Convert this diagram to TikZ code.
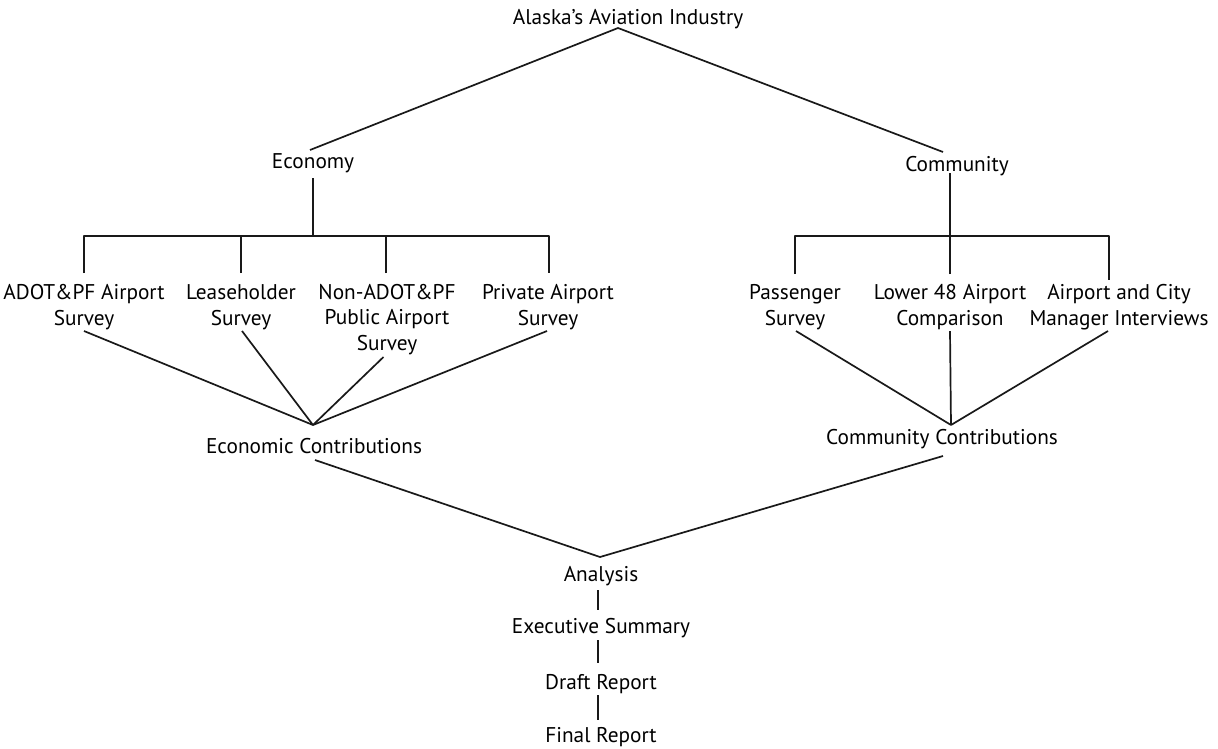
\documentclass[tikz,border=0pt]{standalone}
\usepackage{fontspec}
\setmainfont{PT Sans}
\begin{document}
\begin{tikzpicture}[x=1pt,y=-1pt,
  lbl/.style={font=\fontsize{21.3}{25.5}\selectfont, inner sep=0pt, outer sep=0pt, text height=14.9pt, text depth=0pt},
  mlbl/.style={font=\fontsize{21.3}{25.5}\selectfont, inner sep=0pt, outer sep=0pt, align=center},
  conn/.style={line width=1.7pt, line join=round, draw=black!90}]
\useasboundingbox (0,0) rectangle (1218,748);
% top
\node[lbl] (T) at (628,17) {Alaska's Aviation Industry};
\node[lbl] (E) at (313,161) {Economy};
\node[lbl] (C) at (957,164) {Community};
\coordinate (apex) at ([shift={(-10,11)}]T.center);
\draw[conn] ([shift={(-3,-11)}]E.center) -- (apex) -- ([shift={(-14,-12)}]C.center);
% left survey labels
\node[mlbl] (L1) at (84,307) {ADOT\&PF Airport\\Survey};
\node[mlbl] (L2) at (241,307) {Leaseholder\\Survey};
\node[mlbl] (L3) at (387,319.5) {Non-ADOT\&PF\\Public Airport\\Survey};
\node[mlbl] (L4) at (548,307) {Private Airport\\Survey};
% right survey labels
\node[mlbl] (R1) at (795,307) {Passenger\\Survey};
\node[mlbl] (R2) at (950,307) {Lower 48 Airport\\Comparison};
\node[mlbl] (R3) at (1119,307) {Airport and City\\Manager Interviews};
% left bracket
\draw[conn] ([shift={(0,-34)}]L1.center) -- ++(0,-37) -| ([shift={(1,-34)}]L4.center);
\draw[conn] ([shift={(0,-34)}]L2.center) -- ++(0,-37);
\draw[conn] ([shift={(-1,-46.5)}]L3.center) -- ++(0,-37);
\draw[conn] ([shift={(0,17)}]E.center) -- ++(0,58);
% right bracket
\draw[conn] ([shift={(0,-33)}]R1.center) -- ++(0,-38) -| ([shift={(-10,-27)}]R3.center);
\draw[conn] ([shift={(0,-33)}]R2.center) -- ++(0,-38);
\draw[conn] ([shift={(-7,9)}]C.center) -- ++(0,63);
% contributions
\node[lbl] (EC) at (314,446) {Economic Contributions};
\node[lbl] (CC) at (942,437) {Community Contributions};
\coordinate (ecv) at ([shift={(-1,-21)}]EC.center);
\coordinate (ccv) at ([shift={(9,-12)}]CC.center);
\draw[conn] ([shift={(0,24)}]L1.center) -- (ecv);
\draw[conn] ([shift={(1,24)}]L2.center) -- (ecv);
\draw[conn] ([shift={(-3.5,37.5)}]L3.center) -- (ecv);
\draw[conn] ([shift={(-1,24)}]L4.center) -- (ecv);
\draw[conn] ([shift={(1,24)}]R1.center) -- (ccv);
\draw[conn] ([shift={(0,24)}]R2.center) -- (ccv);
\draw[conn] ([shift={(-11,24)}]R3.center) -- (ccv);
% bottom chain
\node[lbl] (AN) at (601,574) {Analysis};
\node[lbl] (ES) at (601,626) {Executive Summary};
\node[lbl] (DR) at (601,682) {Draft Report};
\node[lbl] (FR) at (601,735.5) {Final Report};
\coordinate (anv) at ([shift={(-1,-17)}]AN.center);
\draw[conn] ([shift={(1,14)}]EC.center) -- (anv) -- ([shift={(1,19)}]CC.center);
\draw[conn] ([shift={(-3,16)}]AN.center) -- ([shift={(-3,-16)}]ES.center);
\draw[conn] ([shift={(-3,14)}]ES.center) -- ([shift={(-3,-19)}]DR.center);
\draw[conn] ([shift={(-3,13)}]DR.center) -- ([shift={(-3,-15.5)}]FR.center);
\end{tikzpicture}
\end{document}
